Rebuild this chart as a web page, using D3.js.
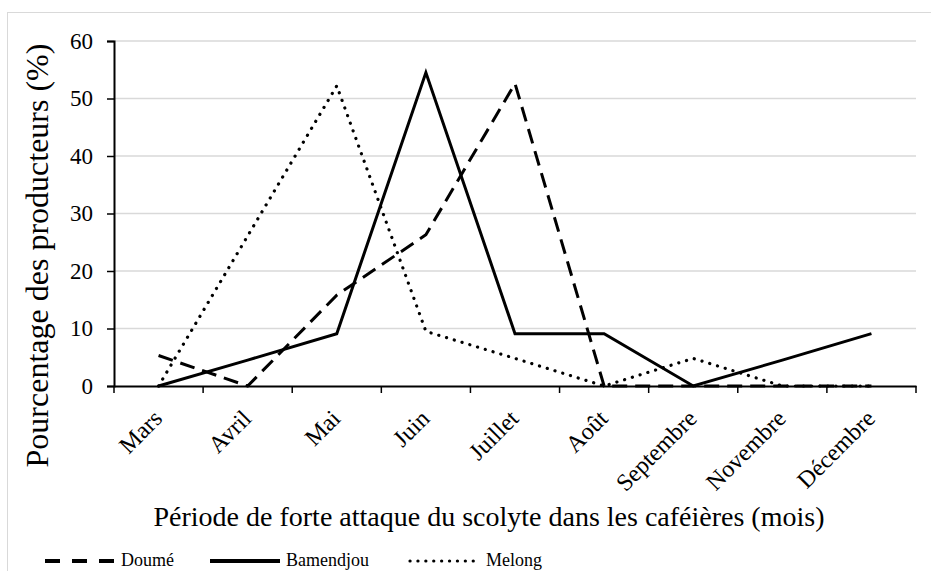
<!DOCTYPE html>
<html>
<head>
<meta charset="utf-8">
<script src="https://cdn.jsdelivr.net/npm/d3@7"></script>
<style>
  body { margin: 0; background: #fff; }
  svg text { font-family: "Liberation Serif", "Times New Roman", serif; fill: #000; }
</style>
</head>
<body>
<div id="container"></div>
<script>
// Months on the x axis
const months = ["Mars", "Avril", "Mai", "Juin", "Juillet", "Août", "Septembre", "Novembre", "Décembre"];

// Percentage of producers per region
const doume     = [5.3, 0, 15.8, 26.3, 52.6, 0, 0, 0, 0];
const bamendjou = [0, 4.5, 9.1, 54.5, 9.1, 9.1, 0, 4.5, 9.1];
const melong    = [0, 26.1, 52.2, 9.5, 4.8, 0, 4.8, 0, 0];

const yTicks = [0, 10, 20, 30, 40, 50, 60];

const width = 931, height = 571;
const margin = { left: 114, right: 15, top: 41, bottom: 185 };

const svg = d3.select("#container")
    .append("svg")
    .attr("width", width)
    .attr("height", height)
    .attr("font-family", "'Liberation Serif', serif");

// light frame around the chart
svg.append("rect")
    .attr("x", 7.5).attr("y", 12.5)
    .attr("width", 940).attr("height", 600)
    .attr("fill", "none")
    .attr("stroke", "#d9d9d9");

const x = d3.scaleBand()
    .domain(months)
    .range([margin.left, width - margin.right]);

const y = d3.scaleLinear()
    .domain([0, 60])
    .range([height - margin.bottom, margin.top]);

// gridlines
svg.append("g")
    .selectAll("line")
    .data(yTicks.filter(d => d > 0))
    .join("line")
    .attr("x1", margin.left).attr("x2", width - margin.right)
    .attr("y1", d => y(d)).attr("y2", d => y(d))
    .attr("stroke", "#d9d9d9")
    .attr("stroke-width", 1.5);

// y axis
const yAxis = svg.append("g")
    .attr("transform", `translate(${margin.left},0)`)
    .call(d3.axisLeft(y).tickValues(yTicks).tickSize(7).tickPadding(14));
yAxis.attr("font-family", null);
yAxis.select(".domain").attr("stroke", "#000").attr("stroke-width", 2);
yAxis.selectAll(".tick line").attr("stroke", "#000").attr("stroke-width", 1.5);
yAxis.selectAll(".tick text")
    .attr("font-size", 23);

// x axis
const xAxis = svg.append("g")
    .attr("transform", `translate(0,${y(0)})`)
    .call(d3.axisBottom(x).tickSize(0).tickFormat(""));
xAxis.select(".domain").attr("stroke", "#000").attr("stroke-width", 2);

// x ticks at band boundaries
svg.append("g")
    .selectAll("line")
    .data(months.map(m => x(m)).concat([x(months[months.length - 1]) + x.bandwidth()]))
    .join("line")
    .attr("x1", d => d).attr("x2", d => d)
    .attr("y1", y(0)).attr("y2", y(0) + 7)
    .attr("stroke", "#000")
    .attr("stroke-width", 1.5);

// rotated month labels
svg.append("g")
    .selectAll("text")
    .data(months)
    .join("text")
    .attr("transform", d => `translate(${x(d) + x.bandwidth() / 2 + 5},${y(0) + 34}) rotate(-45)`)
    .attr("text-anchor", "end")
    .attr("font-size", 24)
    .text(d => d);

// series lines
const line = d3.line()
    .x((d, i) => x(months[i]) + x.bandwidth() / 2)
    .y(d => y(d));

const series = [
    { name: "Melong", values: melong, dash: "0.1 8", width: 3.2, cap: "round" },
    { name: "Doumé", values: doume, dash: "15 8", width: 3, cap: "butt" },
    { name: "Bamendjou", values: bamendjou, dash: null, width: 3, cap: "butt" }
];

svg.append("g")
    .selectAll("path")
    .data(series)
    .join("path")
    .attr("d", d => line(d.values))
    .attr("fill", "none")
    .attr("stroke", "#000")
    .attr("stroke-width", d => d.width)
    .attr("stroke-dasharray", d => d.dash)
    .attr("stroke-linecap", d => d.cap)
    .attr("stroke-linejoin", "miter");

// axis titles
svg.append("text")
    .attr("transform", `translate(48,${(43 + 468) / 2}) rotate(-90)`)
    .attr("text-anchor", "middle")
    .attr("font-size", 32)
    .text("Pourcentage des producteurs (%)");

svg.append("text")
    .attr("x", 489)
    .attr("y", 526)
    .attr("text-anchor", "middle")
    .attr("font-size", 28)
    .text("Période de forte attaque du scolyte dans les caféières (mois)");

// legend
const legendItems = [
    { name: "Doumé", x: 45, dash: "15 12", cap: "butt", width: 4 },
    { name: "Bamendjou", x: 210, dash: null, cap: "butt", width: 4 },
    { name: "Melong", x: 410, dash: "0.1 7.8", cap: "round", width: 3.2 }
];

const legend = svg.append("g").attr("transform", "translate(0,561)");
legend.selectAll("line")
    .data(legendItems)
    .join("line")
    .attr("x1", d => d.x).attr("x2", d => d.x + 70)
    .attr("y1", 0).attr("y2", 0)
    .attr("stroke", "#000")
    .attr("stroke-width", d => d.width)
    .attr("stroke-dasharray", d => d.dash)
    .attr("stroke-linecap", d => d.cap);
legend.selectAll("text")
    .data(legendItems)
    .join("text")
    .attr("x", d => d.x + 76)
    .attr("y", 5)
    .attr("font-size", 18)
    .text(d => d.name);
</script>
</body>
</html>
